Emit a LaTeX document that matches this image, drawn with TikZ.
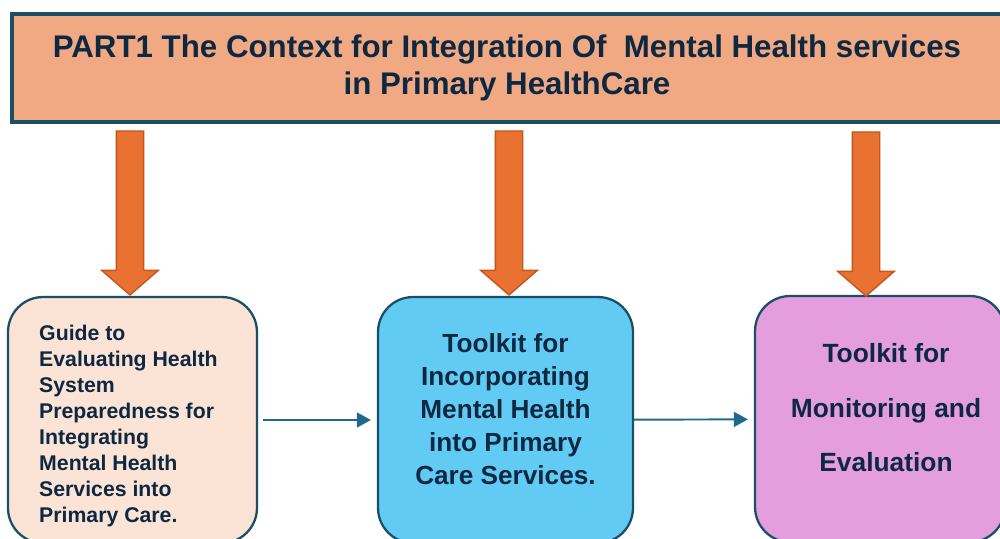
\documentclass[tikz,border=0pt]{standalone}
\usepackage{fontspec}
\setmainfont{Liberation Sans}
\usetikzlibrary{positioning, shapes.arrows, arrows.meta}

\definecolor{titlefill}{HTML}{F1A983}
\definecolor{arrowfill}{HTML}{E97132}
\definecolor{arrowline}{HTML}{C4561D}
\definecolor{peach}{HTML}{FBE3D6}
\definecolor{skyblue}{HTML}{61CBF3}
\definecolor{orchid}{HTML}{E49EDD}
\definecolor{boxline}{HTML}{1B4F68}
\definecolor{navytext}{HTML}{0E2841}
\definecolor{linkblue}{HTML}{1F6A8C}

\tikzset{
  titlebox/.style={draw=boxline, line width=2pt, fill=titlefill, minimum width=19.8cm, minimum height=2.16cm,
    align=center, text=navytext, font=\fontsize{17.8}{21.5}\selectfont\bfseries},
  partbox/.style={draw=boxline, line width=1.3pt, rounded corners=0.7cm, minimum height=4.92cm},
  blockarrow/.style={single arrow, shape border rotate=270, draw=arrowline, line width=0.8pt, fill=arrowfill,
    inner sep=0.26cm, minimum width=1.1cm, minimum height=3.28cm, single arrow head extend=0.29cm, single arrow tip angle=98},
  parttext/.style={text=navytext, inner sep=0pt},
  link/.style={draw=linkblue, line width=1.1pt, -{Triangle[length=8pt, width=8.5pt]}, shorten >=0.12cm}
}

\begin{document}
\begin{tikzpicture}[x=0.02cm, y=-0.02cm]
  \useasboundingbox (0,0) rectangle (1000,538);
  \clip (0,0) rectangle (1000,538);

  \node[titlebox] (title) at (507,68) {PART1 The Context for Integration Of\ \ Mental Health services\\in Primary HealthCare};

  % the three parts
  \node[partbox, fill=peach, minimum width=4.98cm] (guide) at (132.5,420) {};
  \node[partbox, fill=skyblue, minimum width=5.1cm] (toolkit) at (505.5,420) {};
  \node[partbox, fill=orchid, minimum width=5.0cm] (monitor) at (880,419) {};

  \node[parttext, anchor=north west, align=left, font=\fontsize{12.1}{14.8}\selectfont\bfseries]
    (guidetext) at ([xshift=0.64cm, yshift=-0.58cm]guide.north west)
    {Guide to\\Evaluating Health\\System\\Preparedness for\\Integrating\\Mental Health\\Services into\\Primary Care.};
  \node[parttext, align=center, font=\fontsize{14.9}{18.8}\selectfont\bfseries]
    (toolkittext) [below=0.74cm of toolkit.north]
    {Toolkit for\\Incorporating\\Mental Health\\into Primary\\Care Services.};
  \node[parttext, align=center, font=\fontsize{15}{30.9}\selectfont\bfseries]
    (monitortext) [below=0.97cm of monitor.north, xshift=0.12cm]
    {Toolkit for\\Monitoring and\\Evaluation};

  % arrows from the context down to each part
  \node[blockarrow, anchor=tip] (arrowguide) at ([xshift=-0.05cm]guide.north) {};
  \node[blockarrow, anchor=tip] (arrowtoolkit) at ([xshift=0.07cm]toolkit.north) {};
  \node[blockarrow, anchor=tip] (arrowmonitor) at ([xshift=-0.28cm, yshift=-0.04cm]monitor.north) {};

  \draw[link, shorten <=0.1cm] (guide) -- (toolkit);
  \draw[link] (toolkit) -- (monitor);
\end{tikzpicture}
\end{document}
